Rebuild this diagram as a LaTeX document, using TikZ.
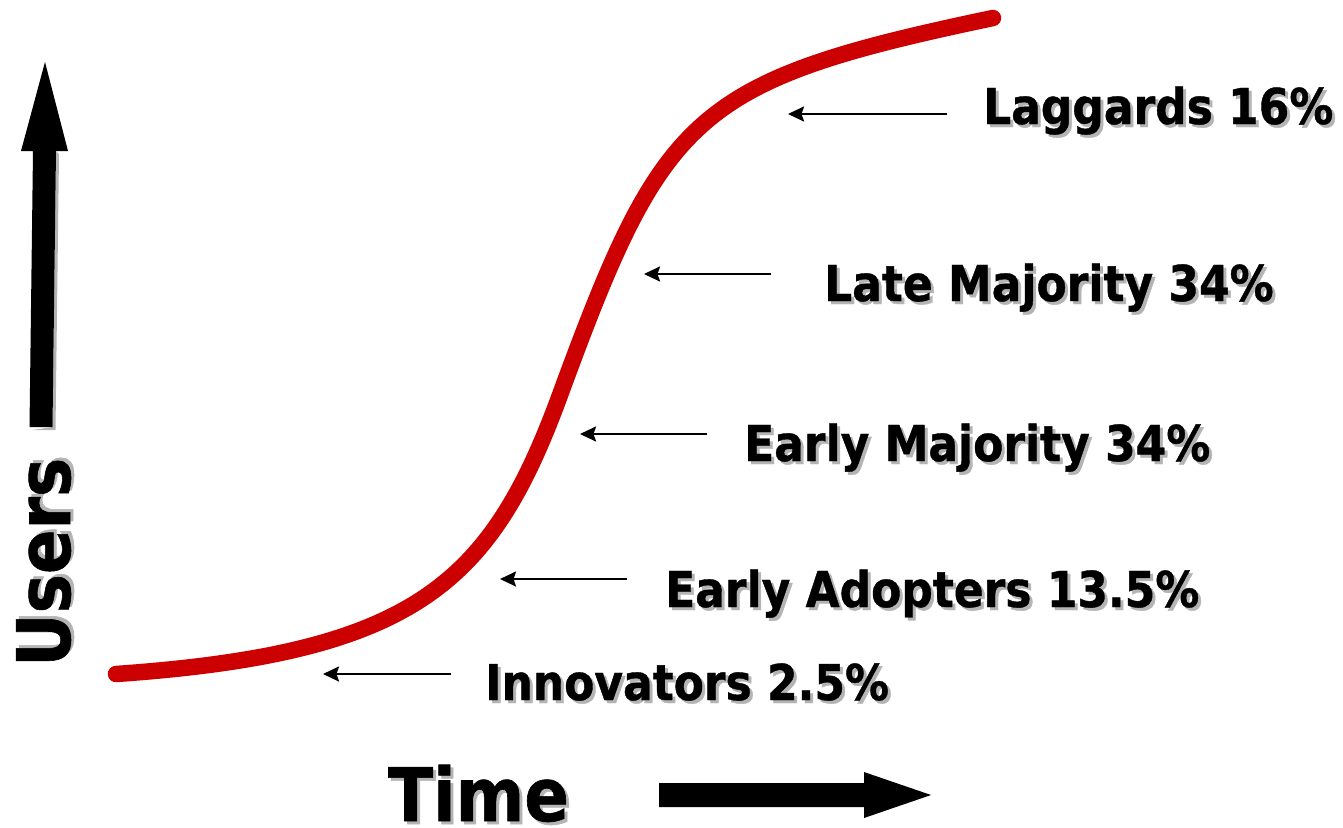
\documentclass[tikz,border=0pt]{standalone}
\usepackage{fontspec}
\newfontfamily\lblfont{DejaVu Sans}[FakeStretch=0.89,FakeBold=0.8]
\usetikzlibrary{arrows.meta}
\definecolor{curvered}{HTML}{CC0000}
\definecolor{shadowgray}{HTML}{B4B4B4}
\newcommand\shadtext[1]{\makebox[0pt][l]{\kern3pt\raisebox{-3pt}{\textcolor{shadowgray}{#1}}}#1}
\begin{document}
\begin{tikzpicture}[x=1pt,y=-1pt,
  lbl/.style={anchor=base west, inner sep=0pt, font=\lblfont\bfseries\fontsize{49.4}{50}\selectfont},
  big/.style={anchor=base west, inner sep=0pt, font=\lblfont\bfseries\fontsize{74}{76}\selectfont},
  ptr/.style={line width=2.2pt, -{Stealth[length=16pt,width=15pt,inset=2.5pt]}},
  scurve/.style={line width=16.5pt, draw=curvered, line cap=round, line join=round},
  blockarrow/.style={fill=black},
  blockshadow/.style={fill=shadowgray}]
\useasboundingbox (0,0) rectangle (1343,827);

% S-curve
\coordinate (cstart) at (116,674);
\coordinate (cmid) at (560,395);
\coordinate (cend) at (993,18);
\draw[scurve] (cstart) .. controls (416,653) and (491,583) .. (cmid)
  .. controls (663.5,113) and (693,81) .. (cend);

% axis block arrows
\fill[blockshadow] (32.5,430) -- (55.5,430) -- (59,154) -- (56,151) -- (52.5,427) -- cycle;
\fill[blockarrow] (29.5,427) -- (52.5,427) -- (56,151) -- (68,151) -- (45,62) -- (21,151) -- (33,151) -- cycle;
\fill[blockarrow] (659,783) -- (864,783) -- (864,772) -- (931,795) -- (864,818) -- (864,807) -- (659,807) -- cycle;

% axis labels
\node[big, rotate=90] (users) at (70,667) {\shadtext{Users}};
\node[big] (time) at (388,821) {\shadtext{Time}};

% category labels
\node[lbl] (lag) at (983,124) {\shadtext{Laggards 16\%}};
\node[lbl] (late) at (824,301) {\shadtext{Late Majority 34\%}};
\node[lbl] (emaj) at (744,461) {\shadtext{Early Majority 34\%}};
\node[lbl] (ead) at (665,607) {\shadtext{Early Adopters 13.5\%}};
\node[lbl] (inn) at (485,700) {\shadtext{Innovators 2.5\%}};

% pointer arrows
\coordinate (lagT) at (947,114);  \coordinate (lagH) at (788,114);
\coordinate (lateT) at (771,274); \coordinate (lateH) at (644,274);
\coordinate (emajT) at (707,434); \coordinate (emajH) at (580,434);
\coordinate (eadT) at (627,579);  \coordinate (eadH) at (500,579);
\coordinate (innT) at (451,674);  \coordinate (innH) at (323,674);
\draw[ptr] (lagT) -- (lagH);
\draw[ptr] (lateT) -- (lateH);
\draw[ptr] (emajT) -- (emajH);
\draw[ptr] (eadT) -- (eadH);
\draw[ptr] (innT) -- (innH);
\end{tikzpicture}
\end{document}
